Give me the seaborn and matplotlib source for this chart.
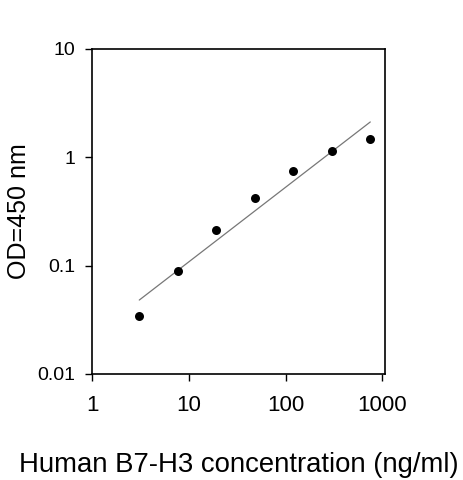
import numpy as np
import pandas as pd
import matplotlib
matplotlib.use("Agg")
import matplotlib.pyplot as plt
import seaborn as sns

# standard curve values
conc = [3.07, 7.68, 19.2, 48, 120, 300, 750]
od = [0.034, 0.089, 0.212, 0.422, 0.741, 1.137, 1.48]
x_ticks = [1, 10, 100, 1000]
y_ticks = [0.01, 0.1, 1, 10]
x_tick_labels = ["1", "10", "100", "1000"]
y_tick_labels = ["0.01", "0.1", "1", "10"]

df = pd.DataFrame({"conc": conc, "od": od})

# log-log linear fit for the trend line
slope, icept = np.polyfit(np.log10(df["conc"]), np.log10(df["od"]), 1)
fit = pd.DataFrame({"conc": [conc[0], conc[-1]]})
fit["od"] = 10 ** (icept + slope * np.log10(fit["conc"]))

sns.set_style("ticks")
plt.rcParams["font.family"] = ["Liberation Sans", "DejaVu Sans"]
plt.rcParams["text.color"] = "black"
plt.rcParams["axes.labelcolor"] = "black"
plt.rcParams["xtick.color"] = "black"
plt.rcParams["ytick.color"] = "black"

fig = plt.figure(figsize=(4.63, 4.8), dpi=100)
ax = fig.add_axes([0.199, 0.221, 0.633, 0.677])

sns.lineplot(data=fit, x="conc", y="od", color="#777777", linewidth=0.9, ax=ax)
sns.scatterplot(data=df, x="conc", y="od", color="black", s=42, edgecolor="black",
                linewidth=0, ax=ax, zorder=3)

ax.set_xscale("log")
ax.set_yscale("log")
ax.set_xlim(1, 1070)
ax.set_ylim(0.01, 10)
ax.set_xticks(x_ticks)
ax.set_xticklabels(x_tick_labels)
ax.set_yticks(y_ticks)
ax.set_yticklabels(y_tick_labels)
ax.minorticks_off()

for s in ax.spines.values():
    s.set_linewidth(1.2)
    s.set_color("black")
ax.tick_params(axis="both", length=5, width=1)
ax.tick_params(axis="x", labelsize=16, pad=10)
ax.tick_params(axis="y", labelsize=14, pad=7)

ax.set_xlabel("Human B7-H3 concentration (ng/ml)", fontsize=19.8, labelpad=26)
ax.set_ylabel("OD=450 nm", fontsize=18, labelpad=5)

fig.savefig("out.png", dpi=100)
